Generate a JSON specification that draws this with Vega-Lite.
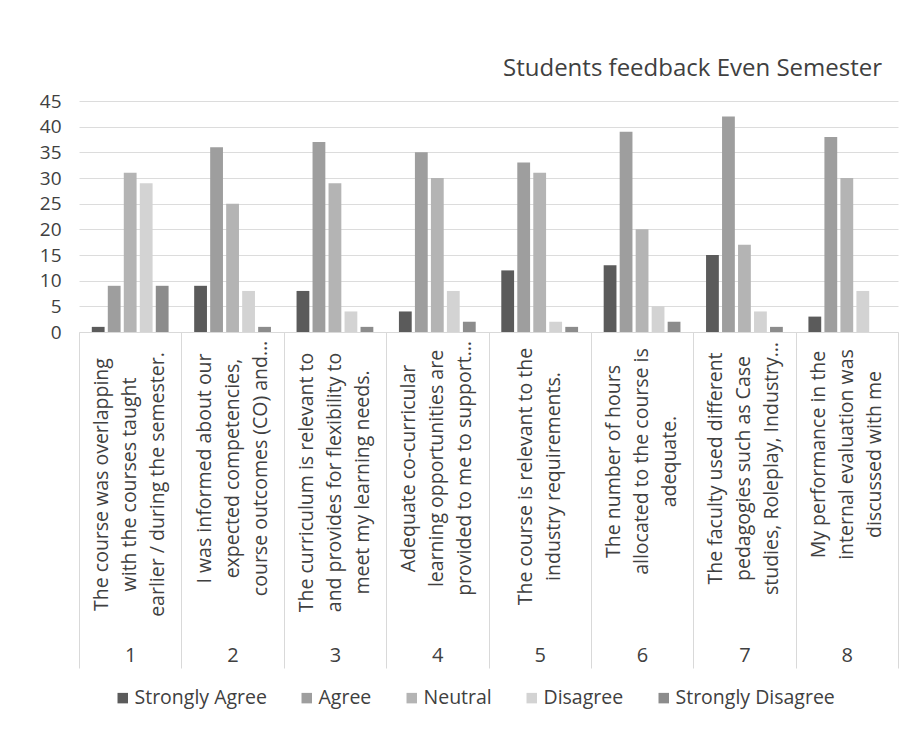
{
  "$schema": "https://vega.github.io/schema/vega-lite/v6.json",
  "width": 819,
  "height": 231,
  "padding": {"left": 39, "top": 57, "right": 10, "bottom": 5},
  "background": "white",
  "config": {"font": "Open Sans", "view": {"stroke": null}, "axis": {"labelColor": "#404040"}},
  "title": {"text": "Students feedback Even Semester", "anchor": "end", "frame": "group", "fontSize": 24, "fontWeight": "normal", "color": "#404040", "offset": 11, "dx": -16},
  "data": {"values": [
    {"q": 1, "question": "The course was overlapping|with the courses taught|earlier / during the semester.", "resp": "Strongly Agree", "n": 1},
    {"q": 1, "question": "The course was overlapping|with the courses taught|earlier / during the semester.", "resp": "Agree", "n": 9},
    {"q": 1, "question": "The course was overlapping|with the courses taught|earlier / during the semester.", "resp": "Neutral", "n": 31},
    {"q": 1, "question": "The course was overlapping|with the courses taught|earlier / during the semester.", "resp": "Disagree", "n": 29},
    {"q": 1, "question": "The course was overlapping|with the courses taught|earlier / during the semester.", "resp": "Strongly Disagree", "n": 9},
    {"q": 2, "question": "I was informed about our|expected competencies,|course outcomes (CO) and…", "resp": "Strongly Agree", "n": 9},
    {"q": 2, "question": "I was informed about our|expected competencies,|course outcomes (CO) and…", "resp": "Agree", "n": 36},
    {"q": 2, "question": "I was informed about our|expected competencies,|course outcomes (CO) and…", "resp": "Neutral", "n": 25},
    {"q": 2, "question": "I was informed about our|expected competencies,|course outcomes (CO) and…", "resp": "Disagree", "n": 8},
    {"q": 2, "question": "I was informed about our|expected competencies,|course outcomes (CO) and…", "resp": "Strongly Disagree", "n": 1},
    {"q": 3, "question": "The curriculum is relevant to|and provides for flexibility to|meet my learning needs.", "resp": "Strongly Agree", "n": 8},
    {"q": 3, "question": "The curriculum is relevant to|and provides for flexibility to|meet my learning needs.", "resp": "Agree", "n": 37},
    {"q": 3, "question": "The curriculum is relevant to|and provides for flexibility to|meet my learning needs.", "resp": "Neutral", "n": 29},
    {"q": 3, "question": "The curriculum is relevant to|and provides for flexibility to|meet my learning needs.", "resp": "Disagree", "n": 4},
    {"q": 3, "question": "The curriculum is relevant to|and provides for flexibility to|meet my learning needs.", "resp": "Strongly Disagree", "n": 1},
    {"q": 4, "question": "Adequate co-curricular|learning opportunities are|provided to me to support…", "resp": "Strongly Agree", "n": 4},
    {"q": 4, "question": "Adequate co-curricular|learning opportunities are|provided to me to support…", "resp": "Agree", "n": 35},
    {"q": 4, "question": "Adequate co-curricular|learning opportunities are|provided to me to support…", "resp": "Neutral", "n": 30},
    {"q": 4, "question": "Adequate co-curricular|learning opportunities are|provided to me to support…", "resp": "Disagree", "n": 8},
    {"q": 4, "question": "Adequate co-curricular|learning opportunities are|provided to me to support…", "resp": "Strongly Disagree", "n": 2},
    {"q": 5, "question": "The course is relevant to the|industry requirements.", "resp": "Strongly Agree", "n": 12},
    {"q": 5, "question": "The course is relevant to the|industry requirements.", "resp": "Agree", "n": 33},
    {"q": 5, "question": "The course is relevant to the|industry requirements.", "resp": "Neutral", "n": 31},
    {"q": 5, "question": "The course is relevant to the|industry requirements.", "resp": "Disagree", "n": 2},
    {"q": 5, "question": "The course is relevant to the|industry requirements.", "resp": "Strongly Disagree", "n": 1},
    {"q": 6, "question": "The number of hours|allocated to the course is|adequate.", "resp": "Strongly Agree", "n": 13},
    {"q": 6, "question": "The number of hours|allocated to the course is|adequate.", "resp": "Agree", "n": 39},
    {"q": 6, "question": "The number of hours|allocated to the course is|adequate.", "resp": "Neutral", "n": 20},
    {"q": 6, "question": "The number of hours|allocated to the course is|adequate.", "resp": "Disagree", "n": 5},
    {"q": 6, "question": "The number of hours|allocated to the course is|adequate.", "resp": "Strongly Disagree", "n": 2},
    {"q": 7, "question": "The faculty used different|pedagogies such as Case|studies, Roleplay, Industry…", "resp": "Strongly Agree", "n": 15},
    {"q": 7, "question": "The faculty used different|pedagogies such as Case|studies, Roleplay, Industry…", "resp": "Agree", "n": 42},
    {"q": 7, "question": "The faculty used different|pedagogies such as Case|studies, Roleplay, Industry…", "resp": "Neutral", "n": 17},
    {"q": 7, "question": "The faculty used different|pedagogies such as Case|studies, Roleplay, Industry…", "resp": "Disagree", "n": 4},
    {"q": 7, "question": "The faculty used different|pedagogies such as Case|studies, Roleplay, Industry…", "resp": "Strongly Disagree", "n": 1},
    {"q": 8, "question": "My performance in the|internal evaluation was|discussed with me", "resp": "Strongly Agree", "n": 3},
    {"q": 8, "question": "My performance in the|internal evaluation was|discussed with me", "resp": "Agree", "n": 38},
    {"q": 8, "question": "My performance in the|internal evaluation was|discussed with me", "resp": "Neutral", "n": 30},
    {"q": 8, "question": "My performance in the|internal evaluation was|discussed with me", "resp": "Disagree", "n": 8},
    {"q": 8, "question": "My performance in the|internal evaluation was|discussed with me", "resp": "Strongly Disagree", "n": 0}
  ]},
  "layer": [
    {
      "mark": {"type": "bar"},
      "encoding": {
        "x": {"field": "question", "type": "nominal", "sort": {"field": "q", "op": "min"},
              "scale": {"paddingInner": 0.25, "paddingOuter": 0.125}, "title": null,
              "axis": {"labelExpr": "split(datum.label, '|')", "labelAngle": -90, "labelAlign": "center", "labelBaseline": "middle",
                       "labelPadding": {"condition": [
                         {"test": "indexof(datum.value, 'overlapping') >= 0", "value": 152},
                         {"test": "indexof(datum.value, 'curriculum') >= 0", "value": 150},
                         {"test": "indexof(datum.value, 'industry requirements') >= 0", "value": 144},
                         {"test": "indexof(datum.value, 'number of hours') >= 0", "value": 129},
                         {"test": "indexof(datum.value, 'My performance') >= 0", "value": 122}
                       ], "value": 136},
                       "labelOffset": {"condition": {"test": "indexof(datum.value, 'industry requirements') >= 0", "value": -14}, "value": -28},
                       "labelLineHeight": 28, "labelFontSize": 19.5, "labelLimit": 0, "labelOverlap": false,
                       "ticks": false, "domain": true, "domainColor": "#d9d9d9", "grid": false}},
        "xOffset": {"field": "resp", "type": "nominal", "sort": ["Strongly Agree", "Agree", "Neutral", "Disagree", "Strongly Disagree"], "scale": {"paddingInner": 0.2}},
        "y": {"field": "n", "type": "quantitative", "scale": {"domain": [0, 45]},
              "axis": {"values": [0, 5, 10, 15, 20, 25, 30, 35, 40, 45], "title": null, "ticks": false, "domain": false, "grid": true, "gridColor": "#dcdcdc", "labelPadding": 18, "labelFontSize": 19}},
        "color": {"field": "resp", "type": "nominal",
                  "scale": {"domain": ["Strongly Agree", "Agree", "Neutral", "Disagree", "Strongly Disagree"], "range": ["#5b5b5b", "#9e9e9e", "#b4b4b4", "#d3d3d3", "#8c8c8c"]},
                  "legend": {"title": null, "orient": "none", "legendX": 34, "legendY": 587, "direction": "horizontal", "symbolType": "square", "symbolSize": 110, "labelFontSize": 19.5, "columnPadding": 30, "labelOffset": 2, "labelColor": "#404040"}}
      }
    },
    {
      "mark": {"type": "point", "opacity": 0},
      "encoding": {
        "x": {"field": "q", "type": "ordinal", "scale": {"paddingInner": 0, "paddingOuter": 0}, "title": null,
              "axis": {"orient": "bottom", "labelAngle": 0, "ticks": true, "tickBand": "extent", "tickSize": 336, "tickColor": "#d9d9d9",
                       "labelPadding": -23, "labelFontSize": 20, "domain": false, "grid": false}}
      }
    }
  ],
  "resolve": {"scale": {"x": "independent"}, "axis": {"x": "independent"}}
}
